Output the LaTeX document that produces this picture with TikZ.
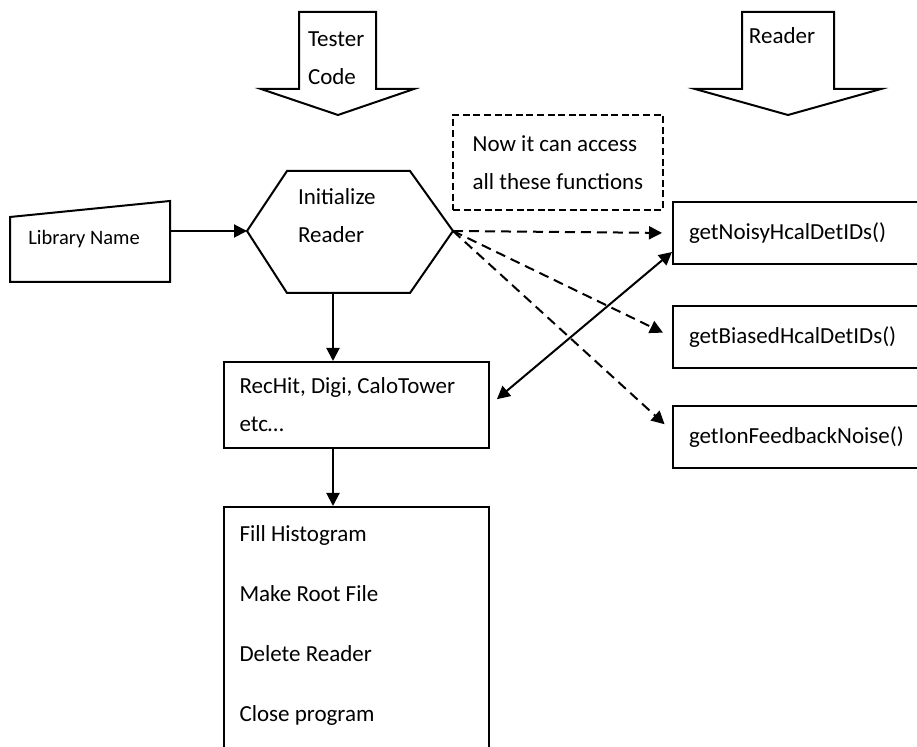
\documentclass[tikz,border=0pt]{standalone}
\usepackage{fontspec}
\setmainfont{Carlito}
\usetikzlibrary{arrows.meta, calc}

\tikzset{
  flow/.style={-{Triangle[length=6.5pt, width=6.5pt]}},
  dflow/.style={flow, dash pattern=on 5pt off 3pt, shorten >=5pt},
  both/.style={{Triangle[length=6.5pt, width=6.5pt]}-{Triangle[length=6.5pt, width=6.5pt]}},
  txt/.style={inner sep=0pt, align=flush left},
  box/.style={draw, anchor=north west, align=flush left},
  func/.style={box, minimum height=31pt, text width=150pt, inner xsep=8pt},
}

\begin{document}
\begin{tikzpicture}[x=0.5pt, y=-0.5pt, line width=1pt,
    every node/.style={font=\fontsize{11.5}{19}\selectfont}]
    \useasboundingbox (0,0) rectangle (917,747);
    \clip (0,0) rectangle (917,747);

    % block arrows
    \draw (299,12) -- (376,12) -- (376,89) -- (414,89) -- (338,115) -- (261,89) -- (299,89) -- cycle;
    \node[txt, anchor=west] (tester) at (307,58) {Tester\\Code};
    \draw (742,12) -- (834,12) -- (834,89) -- (881,89) -- (788,115) -- (695,89) -- (742,89) -- cycle;
    \node[txt] (reader) at (782,36) {Reader};

    % library name
    \draw (10,217) -- (170,201) -- (170,282) -- (10,282) -- cycle;
    \node[txt, font=\fontsize{10.25}{12}\selectfont] (lib) at (84,239) {Library Name};
    \coordinate (libR) at (170,231);

    % hexagon
    \coordinate (hexL) at (247,231);
    \coordinate (hexR) at (453,231);
    \coordinate (hexB) at (333,293);
    \draw (hexL) -- (287,171) -- (410,171) -- (hexR) -- (410,293) -- (287,293) -- cycle;
    \node[txt, anchor=west] (init) at (297,216) {Initialize\\Reader};

    \node[box, dash pattern=on 3.5pt off 1.8pt, minimum width=105pt, minimum height=47.5pt] (note) at (452,114) {Now it can access\\all these functions};

    \node[func] (noisy) at (672,201) {getNoisyHcalDetIDs()};
    \node[func] (biased) at (672,305) {getBiasedHcalDetIDs()};
    \node[func] (ion) at (672,405) {getIonFeedbackNoise()};

    \node[box, minimum height=43pt, text width=117pt, inner xsep=7.75pt] (rec) at (223,361) {RecHit, Digi, CaloTower\\etc…};
    \node[box, text width=117pt, inner xsep=7.75pt, inner ysep=9.5pt, font=\fontsize{11.5}{30}\selectfont] (steps) at (223,506) {Fill Histogram\\Make Root File\\Delete Reader\\Close program\\\mbox{}};

    \draw[flow] (libR) -- (hexL);
    \draw[flow] (hexB) -- (hexB |- rec.north);
    \draw[flow] (hexB |- rec.south) -- (hexB |- steps.north);

    \draw[dflow] (hexR) -- (noisy.west);
    \draw[dflow] (hexR) -- (biased.west);
    \draw[dflow] (hexR) -- ([yshift=3pt]ion.west);
    \draw[both, shorten >=4.5pt] ([yshift=-9.5pt]noisy.west) -- (rec.east);
\end{tikzpicture}
\end{document}
